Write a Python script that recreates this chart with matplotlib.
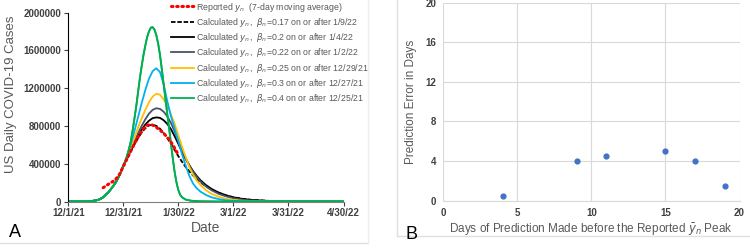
import numpy as np
import pandas as pd
import matplotlib
matplotlib.use('Agg')
import matplotlib.pyplot as plt
from matplotlib.lines import Line2D

plt.rcParams['font.family'] = ['Liberation Sans', 'DejaVu Sans']
plt.rcParams['mathtext.fontset'] = 'dejavusans'

start = pd.Timestamp('2021-12-01')

# shared early part (days after 12/1/21) - all calculated curves overlap here
base_days = [0, 5, 10, 13, 15, 17, 19, 20, 22, 24, 26, 28]
base_vals = [0, 500, 2000, 6000, 11000, 22000, 45000, 62000, 100000, 150000, 205000, 280000]

# reported 7-day average
rep_days = [19, 20, 21, 22, 23, 24, 25, 26, 27, 28, 29, 30, 31, 32, 33, 34, 35, 36, 37, 38, 39, 40,
            41, 42, 43, 44, 45, 46, 47, 48, 49, 50, 51, 52, 53, 54, 55, 56, 57, 58, 59, 60]
rep_vals = [146000, 158000, 171000, 184000, 196000, 208000, 220000, 240000, 262000, 290000, 330000,
            370000, 410000, 450000, 490000, 530000, 570000, 610000, 645000, 680000, 712000, 740000,
            768000, 790000, 805000, 812000, 815000, 808000, 798000, 785000, 770000, 755000, 738000,
            720000, 700000, 680000, 655000, 628000, 598000, 565000, 530000, 495000]

# calculated curves (day, cases) from 12/25/21 onward
calc_days = [30, 32, 34, 36, 38, 40, 42, 44, 46, 48, 50, 52, 54, 56, 58, 60, 62, 64, 66, 68, 70,
             72, 75, 78, 82, 86, 90, 95, 100, 110, 120, 135, 150]
dash_vals = [380000, 450000, 530000, 600000, 670000, 730000, 775000, 805000, 812000, 800000, 770000,
             725000, 670000, 610000, 545000, 480000, 420000, 365000, 318000, 276000, 238000, 203000,
             162000, 127000, 92000, 65000, 45000, 28000, 17000, 6000, 2000, 500, 0]
b020_vals = [380000, 455000, 535000, 615000, 690000, 760000, 815000, 855000, 882000, 890000, 885000,
             860000, 820000, 765000, 690000, 610000, 525000, 450000, 383000, 322000, 271000, 226000,
             175000, 134000, 94000, 65000, 44000, 27000, 16000, 5000, 1500, 300, 0]
b022_vals = [380000, 460000, 545000, 630000, 720000, 800000, 870000, 930000, 970000, 987000, 980000,
             950000, 900000, 830000, 740000, 640000, 545000, 458000, 382000, 316000, 260000, 212000,
             160000, 120000, 80000, 54000, 35000, 19000, 10000, 3000, 1000, 200, 0]
b025_vals = [380000, 470000, 570000, 670000, 780000, 880000, 970000, 1050000, 1110000, 1140000,
             1130000, 1080000, 1010000, 920000, 820000, 700000, 580000, 470000, 365000, 283000,
             222000, 175000, 120000, 82000, 50000, 28000, 16000, 8000, 4000, 1000, 200, 0, 0]
b030_vals = [380000, 480000, 600000, 740000, 890000, 1040000, 1180000, 1300000, 1380000, 1410000,
             1370000, 1240000, 1060000, 900000, 770000, 640000, 500000, 380000, 270000, 190000,
             140000, 105000, 70000, 45000, 25000, 13000, 7000, 3000, 1500, 300, 0, 0, 0]
green_days = [30, 31, 32, 33, 34, 35, 36, 37, 38, 39, 40, 41, 42, 43, 44, 45, 46, 47, 48, 49, 50,
              51, 52, 53, 54, 55, 56, 57, 58, 59, 60, 61, 62, 64, 67, 72, 80, 150]
b040_vals = [375000, 420000, 480000, 550000, 630000, 740000, 870000, 1000000, 1150000, 1300000,
             1430000, 1550000, 1650000, 1740000, 1800000, 1840000, 1845000, 1820000, 1760000,
             1670000, 1550000, 1400000, 1240000, 1080000, 920000, 770000, 610000, 450000, 310000,
             200000, 120000, 70000, 45000, 20000, 8000, 2000, 0, 0]

series = [
    ('Calculated $y_n$,  $\\beta_n$=0.17 on or after 1/9/22', calc_days, dash_vals, 'black', (0, (2.5, 1))),
    ('Calculated $y_n$,  $\\beta_n$=0.2 on or after 1/4/22', calc_days, b020_vals, 'black', '-'),
    ('Calculated $y_n$,  $\\beta_n$=0.22 on or after 1/2/22', calc_days, b022_vals, '#44546A', '-'),
    ('Calculated $y_n$,  $\\beta_n$=0.25 on or after 12/29/21', calc_days, b025_vals, '#FFC000', '-'),
    ('Calculated $y_n$,  $\\beta_n$=0.3 on or after 12/27/21', calc_days, b030_vals, '#00B0F0', '-'),
    ('Calculated $y_n$,  $\\beta_n$=0.4 on or after 12/25/21', green_days, b040_vals, '#00B050', '-'),
]

# panel B
pred_days = [4, 9, 11, 15, 17, 19]
pred_err = [0.5, 4, 4.5, 5, 4, 1.5]

tick_dates = ['2021-12-01', '2021-12-31', '2022-01-30', '2022-03-01', '2022-03-31', '2022-04-30']
tick_labels = ['12/1/21', '12/31/21', '1/30/22', '3/1/22', '3/31/22', '4/30/22']


def to_dates(d):
    return start + pd.to_timedelta(np.array(d, dtype=float), unit='D')


fig = plt.figure(figsize=(7.5, 2.48), dpi=100)
grey = '#595959'

# ---- panel A
ax = fig.add_axes([0.091, 0.1875, 0.367, 0.762])
handles = []
h, = ax.plot(to_dates(rep_days), rep_vals, color='red', lw=2.2, ls=(0, (0.5, 1.2)),
             dash_capstyle='round', zorder=3, label='Reported $y_n$  (7-day moving average)')
handles.append(h)
for lab, d, v, c, ls in series:
    dd = base_days + d
    vv = base_vals + v
    h, = ax.plot(to_dates(dd), vv, color=c, lw=1.3, ls=ls, label=lab)
    handles.append(h)
# green on top of the shared part
ax.plot(to_dates(base_days + green_days), base_vals + b040_vals, color='#00B050', lw=1.3, zorder=2.5)

ax.set_xlim(pd.Timestamp('2021-12-01'), pd.Timestamp('2022-04-30'))
ax.set_ylim(0, 2000000)
ax.set_yticks(np.arange(0, 2000001, 400000))
ax.set_yticklabels([str(v) for v in range(0, 2000001, 400000)])
ax.set_xticks(pd.to_datetime(tick_dates))
ax.set_xticklabels(tick_labels)
for s in ['top', 'right']:
    ax.spines[s].set_visible(False)
ax.spines['left'].set_color('black')
ax.spines['bottom'].set_color('#808080')
ax.tick_params(axis='both', labelsize=7, colors='#404040', length=3, width=0.8, pad=2)
for t in ax.get_xticklabels() + ax.get_yticklabels():
    t.set_fontweight('bold')
ax.set_ylabel('US Daily COVID-19 Cases', fontsize=9.5, color=grey)
ax.yaxis.set_label_coords(-0.185, 0.57)
ax.set_xlabel('Date', fontsize=10, color=grey, labelpad=2)

fig.legend(handles=handles, loc='upper left', bbox_to_anchor=(0.223, 1.012), frameon=False,
           fontsize=6.3, labelcolor=grey, handlelength=2.6, handletextpad=0.3,
           labelspacing=0.26, borderaxespad=0)

fig.text(0.012, 0.045, 'A', fontsize=13, color='black')

# ---- panel B
bx = fig.add_axes([0.591, 0.191, 0.395, 0.798])
bx.scatter(pred_days, pred_err, s=12, color='#4472C4', zorder=3)
bx.set_xlim(0, 20)
bx.set_ylim(0, 20)
bx.set_xticks([0, 5, 10, 15, 20])
bx.set_yticks([0, 4, 8, 12, 16, 20])
bx.grid(True, color='#d9d9d9', lw=0.8)
bx.set_axisbelow(True)
for s in ['top', 'right', 'left']:
    bx.spines[s].set_visible(False)
bx.spines['bottom'].set_color('#d9d9d9')
bx.tick_params(axis='both', labelsize=7, colors='#404040', length=0, pad=5)
for t in bx.get_xticklabels() + bx.get_yticklabels():
    t.set_fontweight('bold')
bx.set_ylabel('Prediction Error in Days', fontsize=8.5, color=grey, labelpad=6)
bx.set_xlabel('Days of Prediction Made before the Reported $\\bar{y}_n$ Peak', fontsize=8.5,
              color=grey, labelpad=3)
fig.text(0.541, 0.035, 'B', fontsize=13, color='black')

# panel frames
fig.add_artist(Line2D([0, 0.491], [0.02, 0.02], color='#e0e0e0', lw=1))
fig.add_artist(Line2D([0.491, 0.491], [0.02, 1], color='#eeeeee', lw=1))
fig.add_artist(Line2D([0.529, 0.529], [0.048, 1], color='#e0e0e0', lw=1))
fig.add_artist(Line2D([0.529, 1], [0.048, 0.048], color='#e0e0e0', lw=1))

fig.savefig('out.png', dpi=100)
